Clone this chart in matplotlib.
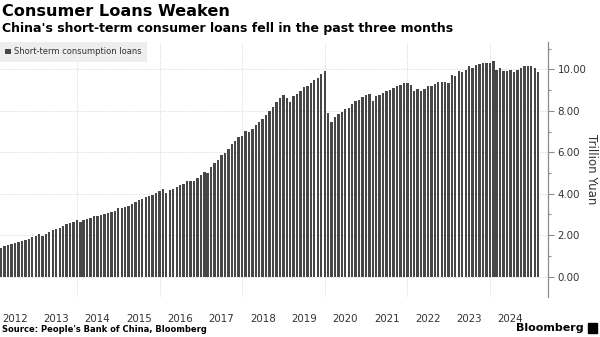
import matplotlib
matplotlib.use("Agg")
import matplotlib.pyplot as plt
import matplotlib.dates as mdates
import pandas as pd
from matplotlib.patches import Patch, Rectangle
from matplotlib.ticker import MultipleLocator, StrMethodFormatter

# Short-term consumption loans, trillion yuan, month-end (Feb 2012 - Feb 2025)
loans_2012 = [1.40, 1.46, 1.51, 1.56, 1.62, 1.66, 1.72, 1.78, 1.82, 1.90, 1.96]
loans_2013 = [2.04, 1.98, 2.07, 2.17, 2.25, 2.31, 2.36, 2.44, 2.52, 2.59, 2.65, 2.73]
loans_2014 = [2.64, 2.75, 2.76, 2.85, 2.91, 2.94, 2.97, 3.03, 3.06, 3.10, 3.15, 3.30]
loans_2015 = [3.33, 3.35, 3.41, 3.49, 3.60, 3.72, 3.77, 3.85, 3.90, 3.92, 4.02, 4.13]
loans_2016 = [4.21, 4.05, 4.20, 4.24, 4.31, 4.41, 4.47, 4.60, 4.63, 4.63, 4.77, 4.92]
loans_2017 = [5.05, 4.99, 5.27, 5.47, 5.63, 5.85, 5.98, 6.16, 6.41, 6.54, 6.75, 6.80]
loans_2018 = [7.02, 6.98, 7.12, 7.30, 7.46, 7.62, 7.78, 7.99, 8.20, 8.44, 8.63, 8.78]
loans_2019 = [8.63, 8.41, 8.70, 8.79, 8.95, 9.13, 9.19, 9.34, 9.50, 9.60, 9.77, 9.91]
loans_2020 = [7.88, 7.47, 7.72, 7.83, 7.96, 8.09, 8.15, 8.31, 8.49, 8.52, 8.68, 8.78]
loans_2021 = [8.82, 8.49, 8.73, 8.75, 8.86, 8.97, 9.00, 9.08, 9.19, 9.24, 9.35, 9.35]
loans_2022 = [9.24, 8.97, 9.07, 8.97, 9.05, 9.21, 9.21, 9.31, 9.39, 9.39, 9.39, 9.34]
loans_2023 = [9.73, 9.69, 9.90, 9.88, 9.95, 10.14, 10.08, 10.21, 10.27, 10.29, 10.32, 10.32]
loans_2024 = [10.38, 9.97, 10.06, 9.92, 9.92, 9.97, 9.88, 9.95, 10.05, 10.16, 10.16, 10.16]
loans_2025 = [10.08, 9.86]

loans = (loans_2012 + loans_2013 + loans_2014 + loans_2015 + loans_2016 + loans_2017
         + loans_2018 + loans_2019 + loans_2020 + loans_2021 + loans_2022 + loans_2023
         + loans_2024 + loans_2025)
dates = pd.date_range("2012-02-29", periods=len(loans), freq="ME")

bar_color = "#474747"
grid_color = "#d4d4d4"
axis_color = "#8c8c8c"

fig = plt.figure(figsize=(6, 3.37), dpi=100)
ax = fig.add_axes([0, 40 / 337, 548 / 600, 255 / 337])

ax.bar(dates, loans, width=21, color=bar_color, label="Short-term consumption loans")

ax.set_xlim(pd.Timestamp("2012-02-19"), pd.Timestamp("2025-05-28"))
ax.set_ylim(-0.98, 11.32)
ax.set_axisbelow(True)

# x axis: year labels mid-year, dotted grid every two years
ax.xaxis.set_major_locator(mdates.YearLocator(1, month=7, day=1))
ax.xaxis.set_major_formatter(mdates.DateFormatter("%Y"))
ax.xaxis.set_minor_locator(mdates.YearLocator(2, month=1, day=1))
ax.grid(which="minor", axis="x", color=grid_color, linestyle=(0, (1, 1.5)), linewidth=0.7)
ax.tick_params(axis="x", which="both", length=0, pad=12, labelsize=7.4, labelcolor="#333333")

# y axis on the right
ax.yaxis.tick_right()
ax.yaxis.set_major_locator(MultipleLocator(2))
ax.yaxis.set_minor_locator(MultipleLocator(1))
ax.yaxis.set_major_formatter(StrMethodFormatter("{x:.2f}"))
ax.grid(which="major", axis="y", color=grid_color, linestyle=(0, (1, 1.5)), linewidth=0.7)
ax.tick_params(axis="y", which="major", length=4, width=0.8, color=axis_color, pad=3,
               labelsize=7.4, labelcolor="#333333")
ax.tick_params(axis="y", which="minor", length=2.5, width=0.8, color=axis_color)

for side in ["top", "left", "bottom"]:
    ax.spines[side].set_visible(False)
ax.spines["right"].set_color(axis_color)
ax.spines["right"].set_linewidth(0.9)

leg = ax.legend(loc="upper left", bbox_to_anchor=(0, 1), borderaxespad=0, frameon=True,
                fancybox=False, facecolor="#eeeeee", edgecolor="none", framealpha=1,
                fontsize=6, handlelength=0.7, handleheight=0.7, handletextpad=0.35,
                borderpad=0.65)
for t in leg.get_texts():
    t.set_color("#333333")

fig.text(592 / 600, 1 - 169 / 337, "Trillion Yuan", rotation=270, ha="center", va="center",
         fontsize=8.5, color="#333333")

fig.text(0.004, 1 - 4 / 337, "Consumer Loans Weaken", ha="left", va="top",
         fontsize=11.6, fontweight="bold", color="black")
fig.text(0.004, 1 - 22 / 337, "China's short-term consumer loans fell in the past three months",
         ha="left", va="top", fontsize=9, fontweight="bold", color="black")
fig.text(0.004, 1 - 329 / 337, "Source: People's Bank of China, Bloomberg", ha="left",
         va="center", fontsize=6, fontweight="bold", color="black")
fig.text(584 / 600, 1 - 328 / 337, "Bloomberg", ha="right", va="center", fontsize=8,
         fontweight="bold", color="black")
fig.patches.append(Rectangle((588 / 600, 1 - 333 / 337), 9 / 600, 10 / 337,
                             transform=fig.transFigure, color="black"))

fig.savefig("out.png", dpi=100)
